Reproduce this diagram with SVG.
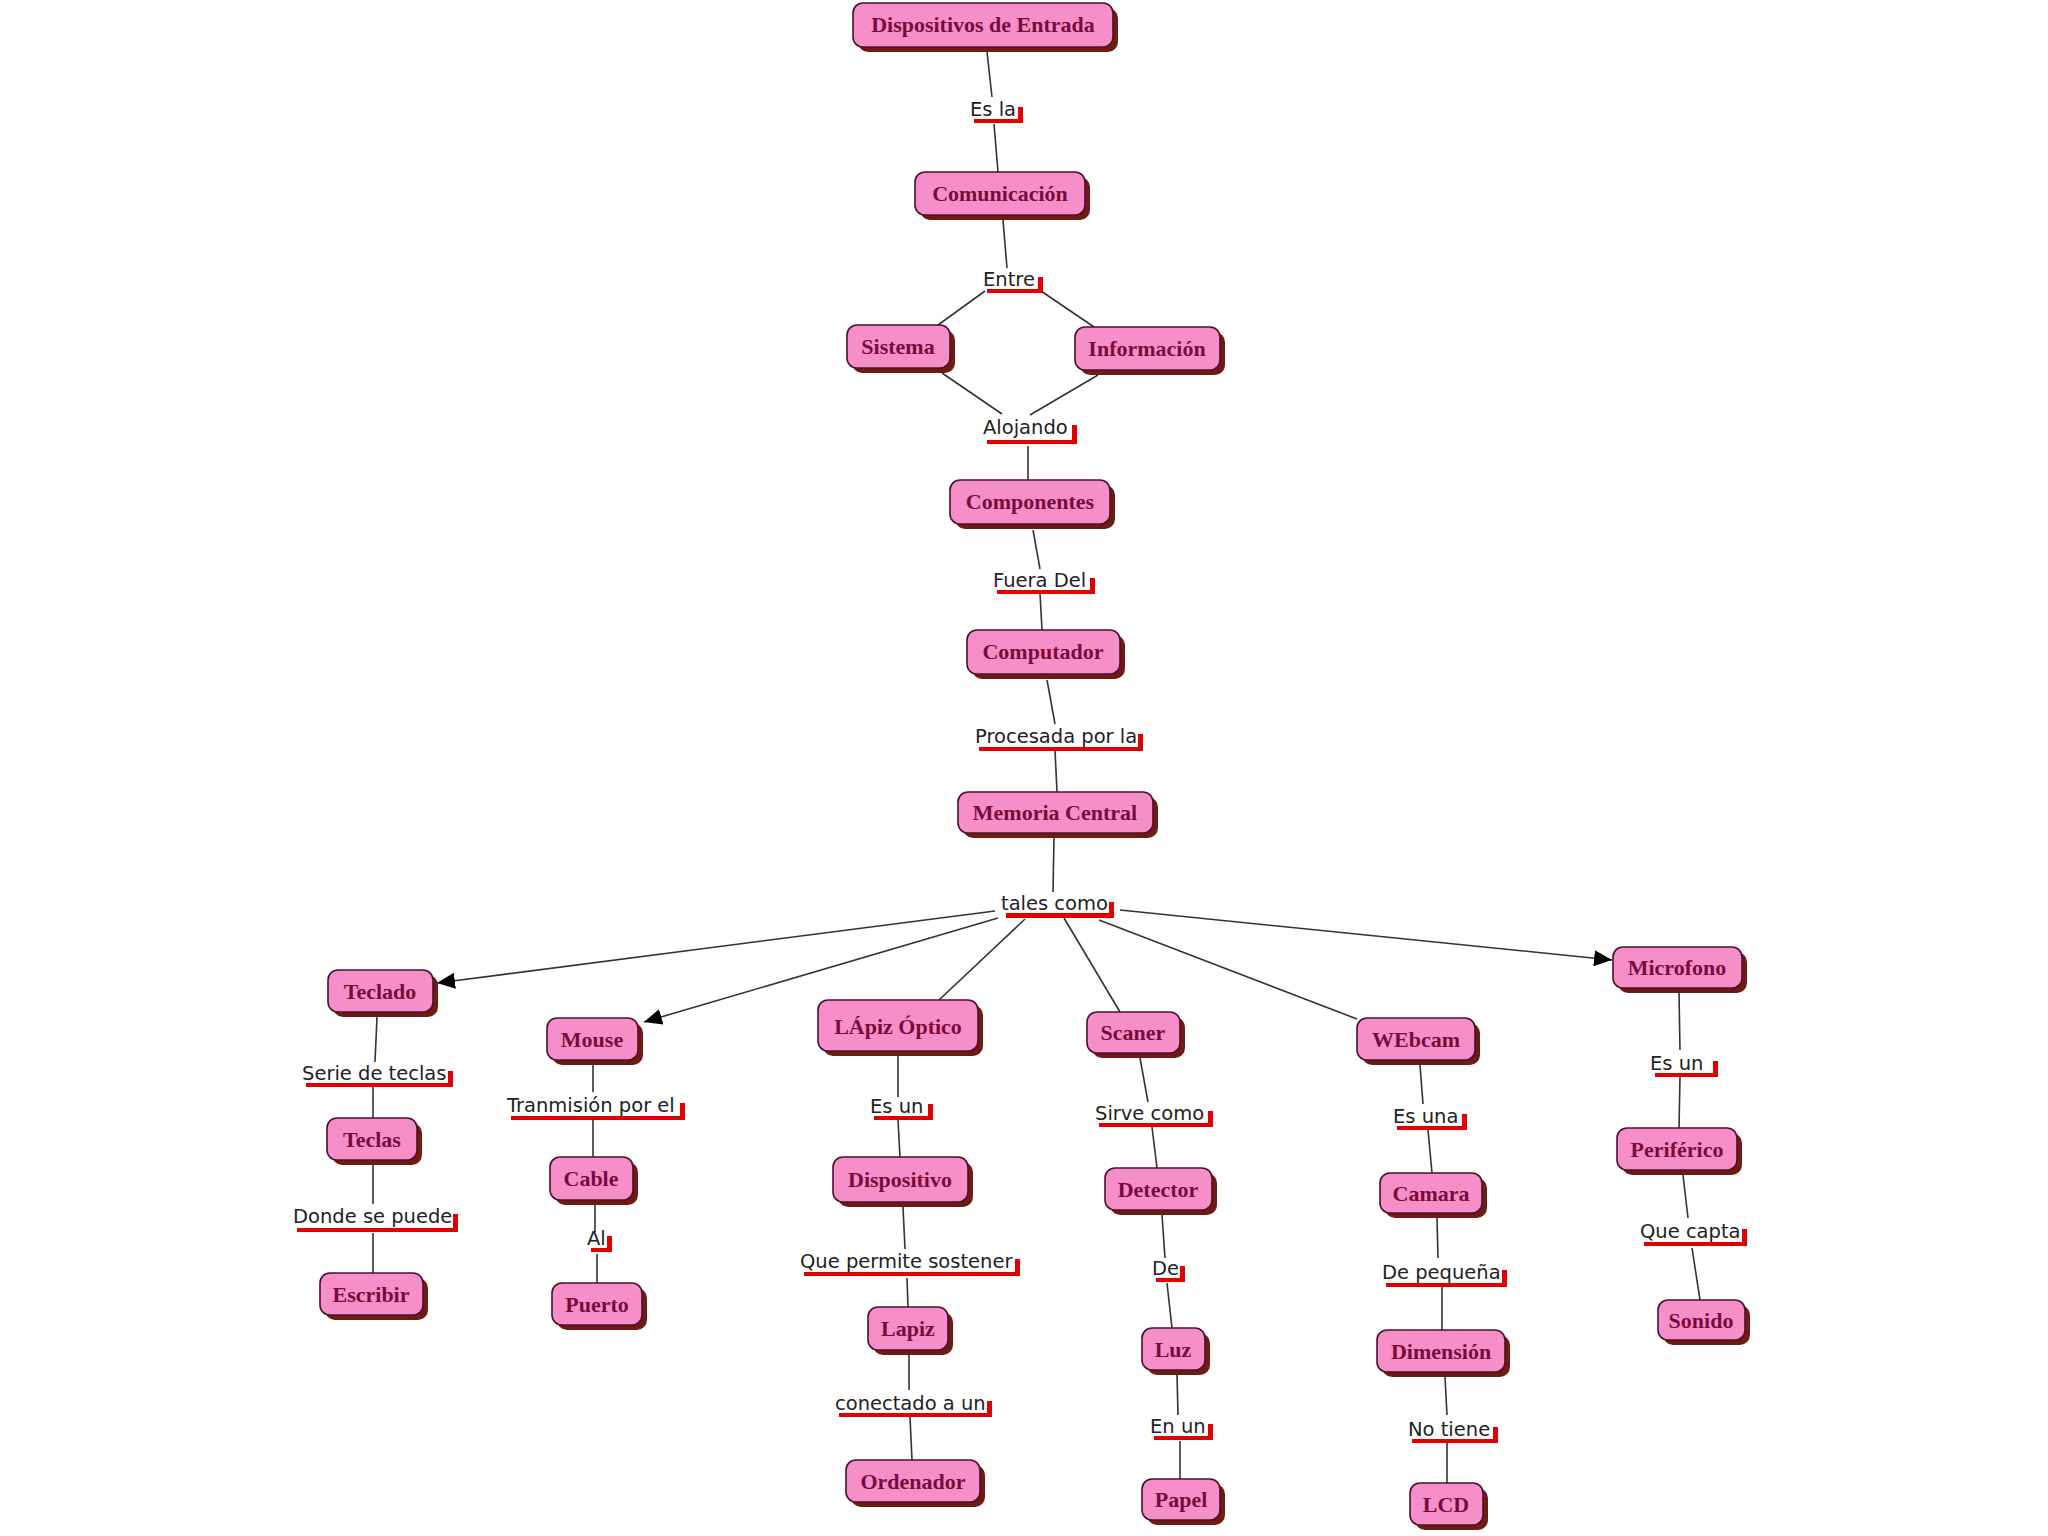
<svg xmlns="http://www.w3.org/2000/svg" width="2048" height="1536" viewBox="0 0 2048 1536">
<defs>
<style>
.nd rect.s{fill:#6e1c12}
.nd rect.b{fill:#f68fc7;stroke:#4a1030;stroke-width:1.6}
.nd text{font-family:"Liberation Serif","Times New Roman",serif;font-weight:bold;font-size:22px;fill:#7a0a3c;text-anchor:middle}
.lb text{font-family:"DejaVu Sans",Verdana,sans-serif;font-size:19.5px;fill:#222}
.lb rect{fill:#e00000}
.cn line{stroke:#333;stroke-width:1.6}
.cn line.a{marker-end:url(#ah)}
</style>
<marker id="ah" markerUnits="userSpaceOnUse" markerWidth="20" markerHeight="16" refX="18" refY="8" orient="auto">
<path d="M0,0 L18,8 L0,16 Z" fill="#000"/>
</marker>
</defs>
<rect width="2048" height="1536" fill="#fff"/>

<g id="connectors" class="cn">
<line x1="987" y1="52" x2="992" y2="97"/>
<line x1="994" y1="124" x2="998" y2="172"/>
<line x1="1003" y1="220" x2="1007" y2="268"/>
<line x1="985" y1="291" x2="938" y2="325"/>
<line x1="1041" y1="291" x2="1094" y2="327"/>
<line x1="942" y1="373" x2="1002" y2="414"/>
<line x1="1098" y1="375" x2="1030" y2="415"/>
<line x1="1028" y1="446" x2="1028" y2="480"/>
<line x1="1033" y1="530" x2="1040" y2="569"/>
<line x1="1040" y1="593" x2="1042" y2="630"/>
<line x1="1047" y1="680" x2="1055" y2="724"/>
<line x1="1055" y1="750" x2="1057" y2="792"/>
<line x1="1054" y1="837" x2="1053" y2="892"/>
<line class="a" x1="995" y1="911" x2="437" y2="983"/>
<line class="a" x1="998" y1="918" x2="644" y2="1022"/>
<line x1="1025" y1="919" x2="939" y2="1000"/>
<line x1="1064" y1="918" x2="1120" y2="1012"/>
<line x1="1099" y1="920" x2="1357" y2="1019"/>
<line class="a" x1="1120" y1="910" x2="1612" y2="960"/>
<line x1="377" y1="1017" x2="375" y2="1062"/>
<line x1="373" y1="1087" x2="373" y2="1118"/>
<line x1="373" y1="1165" x2="373" y2="1204"/>
<line x1="373" y1="1233" x2="373" y2="1273"/>
<line x1="593" y1="1065" x2="593" y2="1092"/>
<line x1="593" y1="1120" x2="593" y2="1157"/>
<line x1="595" y1="1205" x2="595" y2="1232"/>
<line x1="597" y1="1254" x2="597" y2="1283"/>
<line x1="898" y1="1055" x2="898" y2="1097"/>
<line x1="898" y1="1120" x2="900" y2="1157"/>
<line x1="903" y1="1207" x2="905" y2="1249"/>
<line x1="907" y1="1278" x2="908" y2="1307"/>
<line x1="909" y1="1355" x2="909" y2="1390"/>
<line x1="910" y1="1417" x2="912" y2="1460"/>
<line x1="1140" y1="1058" x2="1148" y2="1102"/>
<line x1="1152" y1="1127" x2="1157" y2="1168"/>
<line x1="1162" y1="1215" x2="1165" y2="1258"/>
<line x1="1167" y1="1283" x2="1172" y2="1328"/>
<line x1="1177" y1="1375" x2="1178" y2="1415"/>
<line x1="1180" y1="1441" x2="1180" y2="1479"/>
<line x1="1420" y1="1065" x2="1423" y2="1104"/>
<line x1="1428" y1="1130" x2="1432" y2="1173"/>
<line x1="1437" y1="1218" x2="1438" y2="1258"/>
<line x1="1442" y1="1286" x2="1442" y2="1330"/>
<line x1="1445" y1="1377" x2="1447" y2="1415"/>
<line x1="1447" y1="1442" x2="1447" y2="1483"/>
<line x1="1679" y1="992" x2="1680" y2="1050"/>
<line x1="1680" y1="1077" x2="1679" y2="1128"/>
<line x1="1683" y1="1175" x2="1688" y2="1218"/>
<line x1="1692" y1="1248" x2="1700" y2="1300"/>
</g>

<!-- link labels -->
<g id="l-esla" class="lb"><text x="970" y="116">Es la</text><rect x="974" y="119" width="49" height="4"/><rect x="1018" y="107" width="5" height="16"/></g>
<g id="l-entre" class="lb"><text x="983" y="286">Entre</text><rect x="987" y="289" width="56" height="4"/><rect x="1038" y="277" width="5" height="16"/></g>
<g id="l-alojando" class="lb"><text x="983" y="434">Alojando</text><rect x="987" y="440" width="90" height="4"/><rect x="1072" y="425" width="5" height="19"/></g>
<g id="l-fueradel" class="lb"><text x="993" y="587">Fuera Del</text><rect x="997" y="590" width="98" height="4"/><rect x="1090" y="578" width="5" height="16"/></g>
<g id="l-procesada" class="lb"><text x="975" y="743">Procesada por la</text><rect x="979" y="747" width="164" height="4"/><rect x="1138" y="734" width="5" height="17"/></g>
<g id="l-talescomo" class="lb"><text x="1001" y="910">tales como</text><rect x="1006" y="913" width="108" height="5"/><rect x="1109" y="902" width="5" height="16"/></g>
<g id="l-serie" class="lb"><text x="302" y="1080">Serie de teclas</text><rect x="306" y="1083" width="147" height="4"/><rect x="448" y="1071" width="5" height="16"/></g>
<g id="l-donde" class="lb"><text x="293" y="1223">Donde se puede</text><rect x="297" y="1228" width="161" height="4"/><rect x="453" y="1214" width="5" height="18"/></g>
<g id="l-tranmision" class="lb"><text x="507" y="1112">Tranmisión por el</text><rect x="511" y="1116" width="174" height="4"/><rect x="680" y="1103" width="5" height="17"/></g>
<g id="l-al" class="lb"><text x="587" y="1245">Al</text><rect x="591" y="1248" width="21" height="4"/><rect x="607" y="1236" width="5" height="16"/></g>
<g id="l-esun1" class="lb"><text x="870" y="1113">Es un</text><rect x="874" y="1116" width="59" height="4"/><rect x="928" y="1104" width="5" height="16"/></g>
<g id="l-quepermite" class="lb"><text x="800" y="1268">Que permite sostener</text><rect x="804" y="1272" width="216" height="4"/><rect x="1015" y="1259" width="5" height="17"/></g>
<g id="l-conectado" class="lb"><text x="835" y="1410">conectado a un</text><rect x="839" y="1413" width="153" height="4"/><rect x="987" y="1401" width="5" height="16"/></g>
<g id="l-sirve" class="lb"><text x="1095" y="1120">Sirve como</text><rect x="1099" y="1123" width="114" height="4"/><rect x="1208" y="1111" width="5" height="16"/></g>
<g id="l-de" class="lb"><text x="1152" y="1275">De</text><rect x="1156" y="1278" width="29" height="4"/><rect x="1180" y="1266" width="5" height="16"/></g>
<g id="l-enun" class="lb"><text x="1150" y="1433">En un</text><rect x="1154" y="1436" width="59" height="4"/><rect x="1208" y="1424" width="5" height="16"/></g>
<g id="l-esuna" class="lb"><text x="1393" y="1123">Es una</text><rect x="1397" y="1126" width="70" height="4"/><rect x="1462" y="1114" width="5" height="16"/></g>
<g id="l-depeq" class="lb"><text x="1382" y="1279">De pequeña</text><rect x="1386" y="1283" width="121" height="4"/><rect x="1502" y="1270" width="5" height="17"/></g>
<g id="l-notiene" class="lb"><text x="1408" y="1436">No tiene</text><rect x="1412" y="1439" width="86" height="4"/><rect x="1493" y="1427" width="5" height="16"/></g>
<g id="l-esun2" class="lb"><text x="1650" y="1070">Es un</text><rect x="1655" y="1073" width="63" height="4"/><rect x="1713" y="1061" width="5" height="16"/></g>
<g id="l-quecapta" class="lb"><text x="1640" y="1238">Que capta</text><rect x="1644" y="1242" width="103" height="4"/><rect x="1742" y="1229" width="5" height="17"/></g>

<!-- nodes -->
<g id="n-dispositivos" class="nd"><rect class="s" x="858" y="8" width="260" height="44" rx="10"/><rect class="b" x="853" y="3" width="260" height="44" rx="10"/><text x="983" y="32">Dispositivos de Entrada</text></g>
<g id="n-comunicacion" class="nd"><rect class="s" x="920" y="177" width="170" height="43" rx="10"/><rect class="b" x="915" y="172" width="170" height="43" rx="10"/><text x="1000" y="201">Comunicación</text></g>
<g id="n-sistema" class="nd"><rect class="s" x="852" y="330" width="103" height="43" rx="10"/><rect class="b" x="847" y="325" width="103" height="43" rx="10"/><text x="898" y="354">Sistema</text></g>
<g id="n-informacion" class="nd"><rect class="s" x="1080" y="332" width="145" height="43" rx="10"/><rect class="b" x="1075" y="327" width="145" height="43" rx="10"/><text x="1147" y="356">Información</text></g>
<g id="n-componentes" class="nd"><rect class="s" x="955" y="485" width="160" height="44" rx="10"/><rect class="b" x="950" y="480" width="160" height="44" rx="10"/><text x="1030" y="509">Componentes</text></g>
<g id="n-computador" class="nd"><rect class="s" x="972" y="635" width="153" height="44" rx="10"/><rect class="b" x="967" y="630" width="153" height="44" rx="10"/><text x="1043" y="659">Computador</text></g>
<g id="n-memoria" class="nd"><rect class="s" x="963" y="797" width="195" height="41" rx="10"/><rect class="b" x="958" y="792" width="195" height="41" rx="10"/><text x="1055" y="820">Memoria Central</text></g>
<g id="n-teclado" class="nd"><rect class="s" x="333" y="975" width="105" height="42" rx="10"/><rect class="b" x="328" y="970" width="105" height="42" rx="10"/><text x="380" y="999">Teclado</text></g>
<g id="n-mouse" class="nd"><rect class="s" x="552" y="1023" width="91" height="42" rx="10"/><rect class="b" x="547" y="1018" width="91" height="42" rx="10"/><text x="592" y="1047">Mouse</text></g>
<g id="n-lapizoptico" class="nd"><rect class="s" x="823" y="1005" width="160" height="51" rx="10"/><rect class="b" x="818" y="1000" width="160" height="51" rx="10"/><text x="898" y="1034">LÁpiz Óptico</text></g>
<g id="n-scaner" class="nd"><rect class="s" x="1092" y="1017" width="93" height="41" rx="10"/><rect class="b" x="1087" y="1012" width="93" height="41" rx="10"/><text x="1133" y="1040">Scaner</text></g>
<g id="n-webcam" class="nd"><rect class="s" x="1362" y="1023" width="118" height="42" rx="10"/><rect class="b" x="1357" y="1018" width="118" height="42" rx="10"/><text x="1416" y="1047">WEbcam</text></g>
<g id="n-microfono" class="nd"><rect class="s" x="1618" y="952" width="129" height="41" rx="10"/><rect class="b" x="1613" y="947" width="129" height="41" rx="10"/><text x="1677" y="975">Microfono</text></g>
<g id="n-teclas" class="nd"><rect class="s" x="332" y="1123" width="90" height="42" rx="10"/><rect class="b" x="327" y="1118" width="90" height="42" rx="10"/><text x="372" y="1147">Teclas</text></g>
<g id="n-escribir" class="nd"><rect class="s" x="325" y="1278" width="103" height="42" rx="10"/><rect class="b" x="320" y="1273" width="103" height="42" rx="10"/><text x="371" y="1302">Escribir</text></g>
<g id="n-cable" class="nd"><rect class="s" x="555" y="1162" width="83" height="43" rx="10"/><rect class="b" x="550" y="1157" width="83" height="43" rx="10"/><text x="591" y="1186">Cable</text></g>
<g id="n-puerto" class="nd"><rect class="s" x="557" y="1288" width="90" height="42" rx="10"/><rect class="b" x="552" y="1283" width="90" height="42" rx="10"/><text x="597" y="1312">Puerto</text></g>
<g id="n-dispositivo" class="nd"><rect class="s" x="838" y="1162" width="135" height="45" rx="10"/><rect class="b" x="833" y="1157" width="135" height="45" rx="10"/><text x="900" y="1187">Dispositivo</text></g>
<g id="n-lapiz" class="nd"><rect class="s" x="873" y="1312" width="80" height="43" rx="10"/><rect class="b" x="868" y="1307" width="80" height="43" rx="10"/><text x="908" y="1336">Lapiz</text></g>
<g id="n-ordenador" class="nd"><rect class="s" x="851" y="1465" width="134" height="42" rx="10"/><rect class="b" x="846" y="1460" width="134" height="42" rx="10"/><text x="913" y="1489">Ordenador</text></g>
<g id="n-detector" class="nd"><rect class="s" x="1110" y="1173" width="107" height="42" rx="10"/><rect class="b" x="1105" y="1168" width="107" height="42" rx="10"/><text x="1158" y="1197">Detector</text></g>
<g id="n-luz" class="nd"><rect class="s" x="1147" y="1333" width="63" height="42" rx="10"/><rect class="b" x="1142" y="1328" width="63" height="42" rx="10"/><text x="1173" y="1357">Luz</text></g>
<g id="n-papel" class="nd"><rect class="s" x="1147" y="1484" width="78" height="41" rx="10"/><rect class="b" x="1142" y="1479" width="78" height="41" rx="10"/><text x="1181" y="1507">Papel</text></g>
<g id="n-camara" class="nd"><rect class="s" x="1385" y="1178" width="102" height="40" rx="10"/><rect class="b" x="1380" y="1173" width="102" height="40" rx="10"/><text x="1431" y="1201">Camara</text></g>
<g id="n-dimension" class="nd"><rect class="s" x="1382" y="1335" width="128" height="42" rx="10"/><rect class="b" x="1377" y="1330" width="128" height="42" rx="10"/><text x="1441" y="1359">Dimensión</text></g>
<g id="n-lcd" class="nd"><rect class="s" x="1415" y="1488" width="73" height="42" rx="10"/><rect class="b" x="1410" y="1483" width="73" height="42" rx="10"/><text x="1446" y="1512">LCD</text></g>
<g id="n-periferico" class="nd"><rect class="s" x="1622" y="1133" width="120" height="42" rx="10"/><rect class="b" x="1617" y="1128" width="120" height="42" rx="10"/><text x="1677" y="1157">Periférico</text></g>
<g id="n-sonido" class="nd"><rect class="s" x="1663" y="1305" width="87" height="40" rx="10"/><rect class="b" x="1658" y="1300" width="87" height="40" rx="10"/><text x="1701" y="1328">Sonido</text></g>
</svg>
